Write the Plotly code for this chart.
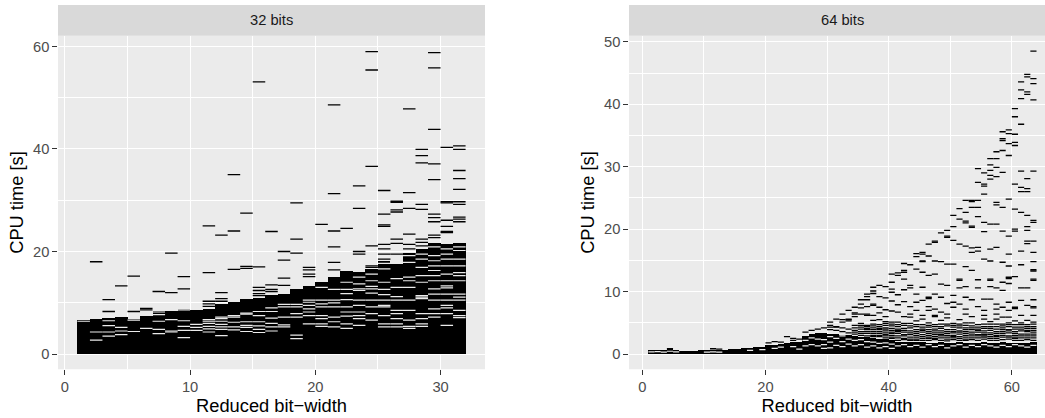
import plotly.graph_objects as go

# ---------------- 32 bits panel data ----------------
cols_32 = list(range(1, 32))
top_32 = [6.6, 6.8, 7.0, 7.2, 6.9, 7.5, 8.5, 8.4, 8.9, 8.7, 8.9, 9.8, 10.2, 10.7, 11.0, 11.5,
          11.8, 12.7, 13.4, 14.0, 15.1, 16.3, 16.0, 16.6, 18.2, 17.6, 19.8, 20.5, 21.7, 21.5, 21.7]
gaps_32 = [
    [6.4], [4.3, 2.7], [6.5, 5.55, 4.3, 3.5], [5.2, 4.5, 3.8], [6.6, 4.4], [5.0],
    [8.2, 7.7, 6.4, 4.8, 4.0], [6.7, 4.5, 4.3], [8.6, 6.5, 5.4, 4.6, 3.2], [5.8, 5.2, 4.6],
    [6.7, 6.4, 6.0, 5.4, 4.9, 4.3], [7.2, 6.9, 6.4, 5.8, 5.3, 4.8, 3.6], [7.5, 7.2, 6.2, 5.3, 4.7],
    [8.0, 7.8, 6.3, 5.6, 5.2, 4.4], [8.3, 7.5, 6.3, 5.5, 4.8, 4.2], [9.0, 8.3, 7.0, 6.0, 5.3, 4.5],
    [9.7, 9.2, 7.2, 5.7, 5.3], [9.7, 9.2, 7.9, 7.2, 3.7, 3.0],
    [10.5, 10.1, 9.5, 8.8, 8.2, 7.5, 5.9], [13.0, 10.5, 9.8, 9.2, 7.5, 6.9, 5.9, 5.4],
    [12.6, 10.5, 10.0, 9.2, 7.2, 6.3, 5.3], [14.0, 12.6, 11.8, 10.6, 9.2, 8.2, 7.4, 5.9, 5.0],
    [15.0, 13.7, 12.7, 12.4, 10.5, 9.5, 8.2, 7.5, 6.9, 5.6],
    [15.6, 14.3, 13.2, 12.7, 11.9, 10.5, 9.2, 7.9, 6.6],
    [17.7, 16.6, 14.0, 12.6, 11.6, 10.5, 9.5, 9.2, 7.5, 5.9, 5.3],
    [14.7, 13.0, 11.2, 10.5, 8.5, 7.9, 6.9, 5.9, 5.3],
    [19.2, 17.9, 15.0, 14.3, 13.0, 10.5, 8.5, 6.6, 5.4, 5.0],
    [19.5, 18.5, 16.9, 15.3, 14.0, 11.4, 11.1, 10.8, 7.9, 6.9, 5.9, 5.4],
    [20.9, 19.2, 18.2, 17.2, 16.3, 15.3, 14.3, 12.7, 11.7, 10.5, 8.8, 7.9, 7.2],
    [20.5, 19.5, 18.5, 17.2, 15.6, 14.3, 13.3, 12.9, 11.7, 10.5, 9.5, 9.0, 7.9, 5.6],
    [20.9, 20.2, 18.5, 17.2, 15.9, 15.3, 14.3, 11.7, 11.1, 10.5, 8.5, 7.5, 7.1],
]
dashes_32 = [
    [], [18.0], [10.6, 8.3], [13.3], [15.2, 8.3], [8.9, 8.6], [12.2], [19.7, 12.0], [15.1, 12.7], [],
    [25.0, 15.9, 10.3, 9.8, 9.3], [23.2, 12.0, 10.8, 10.3], [35.0, 24.0, 16.5], [27.5, 17.1, 16.7],
    [53.1, 17.0, 13.0, 12.4, 11.8, 11.4], [23.9, 13.5, 12.6, 12.2], [20.0, 18.3, 14.8, 13.4],
    [29.5, 22.4, 19.7], [16.9, 16.4, 15.6, 15.1], [25.3], [48.6, 31.3, 24.0, 20.9, 17.9, 16.4],
    [24.5], [32.8, 28.4, 20.0, 19.5], [59.0, 55.4, 36.6, 21.1, 17.2, 16.9],
    [31.9, 27.3, 25.2, 24.9, 21.4, 20.5, 19.5, 18.5], [29.8, 29.6, 28.1, 27.7, 22.4, 21.6, 19.5],
    [47.8, 31.5, 28.4, 23.4, 21.4, 20.5], [39.9, 38.7, 37.3, 29.2, 28.2, 22.4, 21.8, 21.1],
    [58.8, 55.8, 43.8, 37.1, 34.0, 27.3, 26.6, 25.8, 23.2, 22.7],
    [40.3, 29.7, 29.5, 26.1, 24.9, 23.9, 23.7],
    [40.6, 39.9, 35.8, 34.2, 32.1, 29.7, 29.2, 26.7, 26.3, 25.8],
]

# ---------------- 64 bits panel data ----------------
cols_64 = list(range(1, 64))
top_64 = [0.7, 0.75, 0.75, 0.8, 0.7, 0.55, 0.55, 0.55, 0.6, 0.6, 0.65, 0.7, 0.7, 0.85, 0.9, 0.95,
          1.05, 1.1, 1.2, 1.5, 1.55, 1.6, 1.8, 1.9, 2.0, 2.9, 3.2, 3.4, 3.4, 3.3, 3.2, 3.1, 3.0,
          2.9, 2.8, 2.7, 2.6, 2.5, 2.4, 2.3, 2.0, 2.0, 1.9, 1.9, 1.9, 1.8, 1.8, 1.9, 1.8, 1.8,
          1.9, 1.8, 1.8, 1.8, 1.9, 1.8, 1.8, 1.9, 1.8, 1.8, 1.8, 1.8, 1.9]
gaps_64 = [
    [0.35], [0.4], [0.3], [0.45], [0.35], [], [], [], [], [0.3], [0.35], [0.3], [], [], [], [],
    [0.6], [], [0.7], [], [0.9], [1.1], [], [1.2], [0.8],
    [2.2, 1.3], [2.6, 1.5], [2.4, 1.3], [2.3, 1.5, 0.9], [2.8, 1.9, 1.0], [2.5, 1.4],
    [2.9, 2.0, 1.2], [2.4, 1.6], [2.2, 1.3], [2.3, 1.5], [2.0, 1.1], [1.9, 1.3], [1.7, 1.0],
    [1.8, 1.2], [1.6, 0.9], [1.3], [1.5], [1.2], [1.4], [1.1], [1.5], [1.2], [1.4], [1.0],
    [1.3], [1.5], [1.1], [1.4], [1.2], [1.5], [1.3], [1.1], [1.4], [1.2], [1.5], [1.3], [1.1], [1.4],
]
dashes_64 = [
    [], [], [], [0.85], [], [], [], [], [], [], [0.85], [0.8], [], [], [], [], [], [], [],
    [1.8], [2.0], [1.9], [2.8], [2.5, 2.2], [2.4],
    [3.5], [3.8], [4.0], [4.2],
    [5.1, 4.6, 4.3, 3.9],
    [5.6, 4.4, 4.3, 3.8],
    [6.4, 5.5, 5.1, 4.2, 3.6],
    [7.0, 5.6, 5.5, 5.3, 4.0, 3.4],
    [7.5, 6.6, 6.4, 6.0, 4.6, 3.8, 3.2],
    [8.7, 8.0, 7.4, 6.4, 4.9, 4.6, 3.6],
    [9.6, 9.2, 8.7, 7.6, 6.4, 6.2, 4.6, 4.1, 3.3],
    [10.7, 10.1, 9.7, 8.0, 7.8, 6.2, 5.4, 4.8, 3.9, 3.0],
    [11.0, 9.2, 7.5, 6.6, 5.5, 4.4, 3.6, 2.8],
    [10.8, 9.0, 7.1, 6.0, 5.2, 4.2, 3.4, 2.6],
    [12.8, 11.5, 10.4, 9.9, 8.5, 6.9, 5.1, 4.5, 3.8, 3.0, 2.5],
    [13.0, 12.6, 9.5, 7.9, 6.7, 5.1, 4.0, 3.3, 2.6],
    [14.5, 13.4, 13.1, 12.0, 10.3, 8.4, 6.0, 4.6, 3.5, 2.9, 2.3],
    [14.3, 11.0, 10.6, 7.6, 6.4, 5.9, 4.2, 3.1, 2.4],
    [16.1, 15.6, 13.6, 9.6, 8.3, 7.0, 5.3, 4.4, 3.6, 2.7, 2.2],
    [16.3, 16.0, 14.9, 14.8, 13.1, 10.7, 8.6, 6.2, 5.6, 4.3, 3.5, 2.5],
    [17.6, 15.7, 12.6, 9.1, 8.9, 7.6, 7.0, 5.0, 3.9, 3.0, 2.2],
    [18.1, 17.9, 14.9, 12.8, 9.6, 7.2, 6.2, 6.0, 4.7, 3.7, 2.8, 2.3],
    [19.4, 14.8, 11.2, 9.1, 6.7, 5.4, 4.1, 3.4, 2.6],
    [19.8, 18.9, 18.7, 14.4, 11.0, 8.1, 6.4, 5.8, 4.5, 3.3, 2.4],
    [22.2, 20.4, 18.2, 14.4, 9.4, 8.3, 7.5, 4.9, 3.9, 3.0, 2.3],
    [23.3, 21.6, 17.6, 12.0, 11.8, 10.6, 8.0, 5.5, 4.2, 3.2, 2.5],
    [24.6, 22.7, 21.3, 21.0, 17.3, 14.0, 10.8, 9.1, 7.2, 6.4, 4.6, 3.6, 2.7, 2.2],
    [24.6, 24.4, 23.5, 20.5, 20.3, 17.0, 16.3, 13.4, 8.7, 6.0, 5.0, 3.9, 2.9, 2.3],
    [29.7, 27.5, 24.6, 23.5, 22.0, 17.1, 16.5, 11.9, 10.6, 7.6, 4.3, 3.5, 2.6],
    [29.0, 27.2, 26.9, 25.6, 21.1, 19.6, 15.2, 8.8, 7.0, 6.2, 5.6, 4.1, 3.1, 2.4],
    [31.3, 30.3, 29.4, 28.6, 28.0, 20.8, 16.8, 14.9, 12.0, 11.8, 10.8, 8.8, 5.2, 3.8, 2.8, 2.2],
    [32.4, 31.3, 29.9, 28.4, 24.3, 23.9, 20.8, 17.1, 10.6, 8.0, 7.2, 6.4, 5.6, 4.4, 3.3, 2.5],
    [35.6, 34.5, 34.2, 32.6, 29.1, 23.5, 19.7, 14.7, 11.5, 10.2, 7.5, 5.9, 4.8, 3.6, 2.7],
    [35.9, 35.3, 33.7, 31.8, 24.8, 18.9, 16.0, 14.1, 12.3, 12.1, 11.3, 8.3, 7.0, 5.9, 4.4, 3.4, 2.4],
    [39.3, 38.0, 35.2, 33.9, 33.4, 27.2, 23.2, 20.0, 19.7, 12.4, 7.5, 7.3, 5.3, 4.0, 3.0, 2.2],
    [43.6, 42.3, 40.9, 36.8, 29.3, 26.7, 26.0, 22.7, 16.5, 14.3, 10.6, 8.6, 6.2, 4.7, 3.7, 2.6],
    [44.8, 44.4, 42.0, 41.6, 28.1, 26.5, 26.0, 22.2, 20.4, 19.8, 18.1, 17.7, 10.6, 7.8, 5.4, 4.1, 3.2, 2.3],
    [48.5, 44.1, 43.3, 40.7, 29.3, 21.4, 21.1, 18.1, 16.3, 14.8, 13.5, 13.3, 12.0, 11.8, 8.7, 7.6,
     7.4, 6.2, 4.8, 4.4, 3.5, 2.6],
]
# dense low band (2-5 s) of the 64-bit runs, bit-widths 34..63
band_cols_64 = list(range(34, 64))
band_64 = [
    [2.8, 3.5, 4.2], [3.0, 3.3, 4.0, 4.3], [2.9, 3.6, 3.9, 4.4], [2.8, 3.3, 3.6, 4.2, 4.5],
    [3.0, 3.3, 3.9, 4.1, 4.7], [2.9, 3.1, 3.7, 4.0, 4.6, 4.9], [2.7, 3.3, 3.5, 4.1, 4.8],
    [2.2, 2.9, 3.6, 3.8, 4.4, 4.7], [2.5, 3.1, 3.8, 4.1, 4.9], [2.2, 2.7, 3.4, 3.7, 4.5, 4.9],
    [2.4, 3.0, 3.3, 3.9, 4.7], [2.2, 2.8, 3.1, 3.8, 4.0, 4.7], [2.5, 2.7, 3.3, 3.6, 4.3, 4.6],
    [2.5, 3.1, 3.4, 4.0, 4.4], [2.2, 2.9, 3.1, 3.7, 4.4, 4.8], [2.1, 2.7, 3.0, 3.6, 3.9, 4.8],
    [2.6, 2.8, 3.4, 3.6, 4.3, 4.6], [2.2, 2.8, 3.5, 3.7, 4.5, 4.8], [2.4, 3.0, 3.3, 3.9, 4.2, 5.0],
    [2.6, 3.2, 3.5, 4.2, 4.5], [2.2, 2.9, 3.1, 3.8, 4.0, 4.7], [2.7, 2.9, 3.4, 3.7, 4.4, 4.8],
    [2.5, 3.1, 3.4, 4.1, 4.4, 4.8], [2.2, 2.8, 3.0, 3.6, 4.0, 4.8], [2.3, 3.0, 3.3, 3.9, 4.2, 4.5],
    [2.7, 2.9, 3.7, 3.9, 4.7, 5.0], [2.5, 2.7, 3.3, 3.6, 4.3, 4.7], [2.2, 2.9, 3.2, 4.0, 4.3, 5.0],
    [2.6, 2.9, 3.6, 3.8, 4.4, 4.7], [2.2, 2.9, 3.2, 3.8, 4.1, 5.1],
]

panel_titles = ["32 bits", "64 bits"]
x_title = "Reduced bit\u2212width"
y_title = "CPU time [s]"

BG = "#EBEBEB"
FONT = "Liberation Sans, Arial, Helvetica, sans-serif"


def segments(cols, lists):
    xs, ys = [], []
    for k, vals in zip(cols, lists):
        for v in vals:
            xs += [k, k + 1, None]
            ys += [v, v, None]
    return xs, ys


fig = go.Figure()
panels = [
    (cols_32, top_32, gaps_32, [(cols_32, dashes_32)], "x", "y"),
    (cols_64, top_64, gaps_64, [(cols_64, dashes_64), (band_cols_64, band_64)], "x2", "y2"),
]
for cols, top, gaps, dash_sets, xa, ya in panels:
    fig.add_trace(go.Bar(x=[k + 0.5 for k in cols], y=top, width=1, base=0,
                         marker=dict(color="black", line=dict(width=0)),
                         xaxis=xa, yaxis=ya, showlegend=False, hoverinfo="skip"))
    gx, gy = segments(cols, gaps)
    fig.add_trace(go.Scatter(x=gx, y=gy, mode="lines", line=dict(color=BG, width=1.2),
                             xaxis=xa, yaxis=ya, showlegend=False, hoverinfo="skip"))
    for dcols, dvals in dash_sets:
        dx, dy = segments(dcols, dvals)
        fig.add_trace(go.Scatter(x=dx, y=dy, mode="lines", line=dict(color="black", width=1.3),
                                 xaxis=xa, yaxis=ya, showlegend=False, hoverinfo="skip"))

W, H = 1045, 418
ydom = [1 - 369 / H, 1 - 34 / H]
strip_top = 1 - 3 / H

tick_common = dict(ticks="outside", ticklen=4.6, tickwidth=1.07, tickcolor="#333333",
                   tickfont=dict(size=14.7, color="#4D4D4D", family=FONT),
                   showgrid=True, gridcolor="white", gridwidth=1.07,
                   zeroline=False, showline=False)
title_font = dict(size=18.3, color="black", family=FONT)
minor_grid = dict(showgrid=True, gridcolor="white", gridwidth=0.53)

fig.update_layout(
    width=W, height=H, margin=dict(l=0, r=0, t=0, b=0),
    paper_bgcolor="white", plot_bgcolor=BG, barmode="overlay", bargap=0,
    font=dict(family=FONT),
    xaxis=dict(domain=[58 / W, 485 / W], range=[-0.55, 33.55], anchor="y",
               tick0=0, dtick=10, minor=dict(dtick=5, **minor_grid),
               title=dict(text=x_title, font=title_font, standoff=3), **tick_common),
    yaxis=dict(domain=ydom, range=[-2.96, 62.06], anchor="x", tick0=0, dtick=20,
               minor=dict(dtick=10, **minor_grid),
               title=dict(text=y_title, font=title_font, standoff=4), **tick_common),
    xaxis2=dict(domain=[629 / W, 1.0], range=[-2.15, 65.38], anchor="y2",
                tick0=0, dtick=20, minor=dict(dtick=10, **minor_grid),
                title=dict(text=x_title, font=title_font, standoff=3), **tick_common),
    yaxis2=dict(domain=ydom, range=[-2.43, 50.96], anchor="x2", tick0=0, dtick=10,
                minor=dict(dtick=5, **minor_grid),
                title=dict(text=y_title, font=title_font, standoff=4), **tick_common),
)

for xa, title, xc in [("x", panel_titles[0], (cols_32[0] + cols_32[-1] + 1) / 2),
                      ("x2", panel_titles[1], (cols_64[0] + cols_64[-1] + 1) / 2)]:
    fig.add_shape(type="rect", xref=f"{xa} domain", yref="paper", x0=0, x1=1.2 if xa == "x2" else 1,
                  y0=ydom[1], y1=strip_top, fillcolor="#D9D9D9", line=dict(width=0), layer="below")
    fig.add_annotation(xref=xa, yref="paper", x=xc, y=(ydom[1] + strip_top) / 2,
                       text=title, showarrow=False, yanchor="middle",
                       font=dict(size=14.7, color="#1A1A1A", family=FONT))

fig.write_html("out.html")
